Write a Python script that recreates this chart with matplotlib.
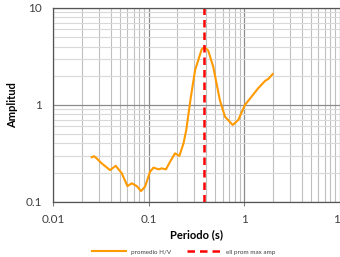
import matplotlib
matplotlib.use("Agg")
import matplotlib.pyplot as plt
from matplotlib.ticker import LogLocator, NullFormatter, FixedLocator, FixedFormatter

# datos
periodo = [0.0254, 0.0269, 0.0286, 0.0323, 0.0395, 0.0453, 0.0525, 0.0600, 0.0667,
           0.0752, 0.0834, 0.0918, 0.1036, 0.1126, 0.127, 0.137, 0.152, 0.168, 0.189,
           0.21, 0.232, 0.248, 0.275, 0.307, 0.36, 0.384, 0.42, 0.475, 0.557, 0.63, 0.76,
           0.87, 1.02, 1.20, 1.40, 1.66, 1.80, 1.99]
amplitud = [0.288, 0.295, 0.28, 0.249, 0.212, 0.235, 0.196, 0.145, 0.155,
            0.145, 0.129, 0.143, 0.204, 0.225, 0.216, 0.221, 0.216, 0.259, 0.316,
            0.297, 0.40, 0.55, 1.15, 2.29, 3.75, 3.94, 3.65, 2.48, 1.12, 0.755, 0.62,
            0.70, 0.998, 1.22, 1.48, 1.77, 1.86, 2.08]
periodo_max = 0.384
xticks = [0.01, 0.1, 1, 10]
xtick_labels = ["0.01", "0.1", "1", "10"]
yticks = [0.1, 1, 10]
ytick_labels = ["0.1", "1", "10"]

plt.rcParams['font.family'] = ['Lato', 'DejaVu Sans']

fig = plt.figure(figsize=(3.4, 2.57), dpi=100)
ax = fig.add_axes([0.156, 0.215, 0.843, 0.754])

ax.plot(periodo, amplitud, color="#FF9A00", lw=1.5, label="promedio H/V")
ax.plot([periodo_max, periodo_max], [0.1, 10], color="#FF0000", lw=1.8,
        ls=(0, (3, 2)), label="ell prom max amp")

ax.set_xscale("log")
ax.set_yscale("log")
ax.set_xlim(0.01, 10)
ax.set_ylim(0.1, 10)

ax.xaxis.set_major_locator(FixedLocator(xticks))
ax.xaxis.set_major_formatter(FixedFormatter(xtick_labels))
ax.yaxis.set_major_locator(FixedLocator(yticks))
ax.yaxis.set_major_formatter(FixedFormatter(ytick_labels))
ax.xaxis.set_minor_locator(LogLocator(base=10, subs=range(2, 10)))
ax.yaxis.set_minor_locator(LogLocator(base=10, subs=range(2, 10)))
ax.xaxis.set_minor_formatter(NullFormatter())
ax.yaxis.set_minor_formatter(NullFormatter())

ax.grid(which="major", color="#8c8c8c", lw=0.9)
ax.grid(which="minor", axis="x", color="#bfbfbf", lw=0.8)
ax.grid(which="minor", axis="y", color="#d9d9d9", lw=0.8)
ax.set_axisbelow(True)

ax.tick_params(which="minor", length=0)
ax.tick_params(axis="x", which="major", length=3, color="#808080", pad=6, labelsize=8.5, labelcolor="#404040")
ax.tick_params(axis="y", which="major", length=0, pad=8, labelsize=8.5, labelcolor="#404040")

for s in ["left", "bottom", "top"]:
    ax.spines[s].set_color("#555555")
    ax.spines[s].set_linewidth(0.9)
ax.spines["right"].set_visible(False)

ax.set_xlabel("Periodo (s)", fontsize=8, fontweight="bold", labelpad=3)
ax.set_ylabel("Amplitud", fontsize=8, fontweight="bold", labelpad=5)

fig.legend(*ax.get_legend_handles_labels(), loc="center", bbox_to_anchor=(0.54, 0.02),
           ncol=2, frameon=False, fontsize=4.5, handlelength=5.5, columnspacing=2.5,
           handletextpad=0.8, labelcolor="#404040", borderpad=0)

fig.savefig("out.png", dpi=100)
